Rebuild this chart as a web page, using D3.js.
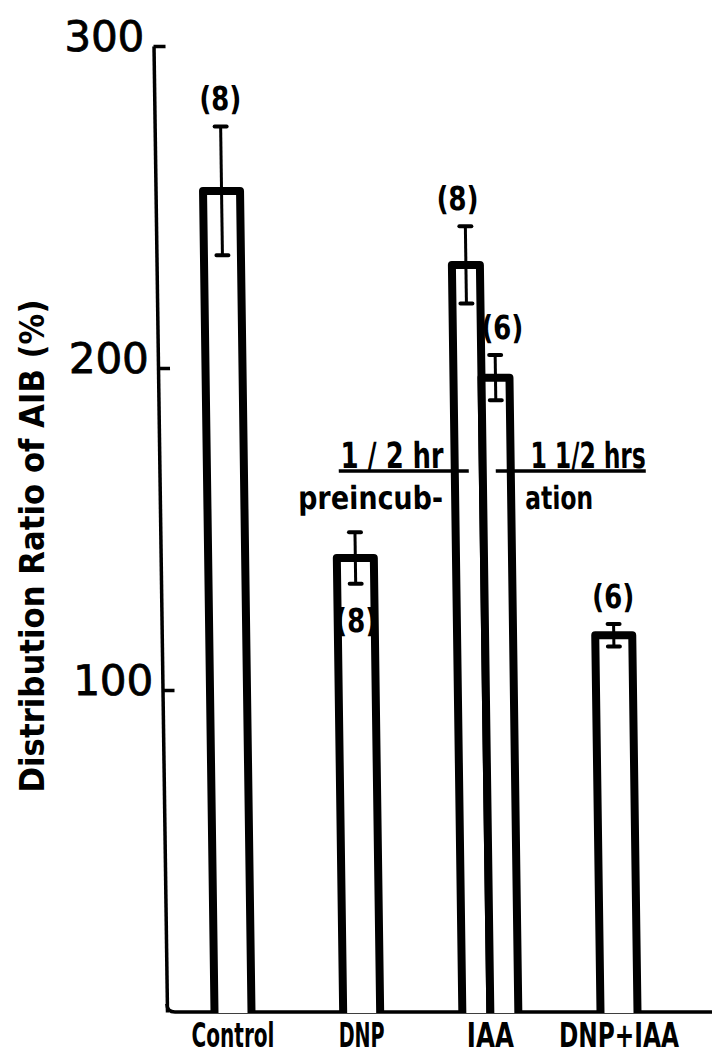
<html>

<head>
    <meta charset="utf-8">
    <title>Distribution Ratio of AIB</title>

    <style>
        body {
            padding: 0;
            margin: 0;
            background: white;
        }

        .axis path,
        .axis line {
            stroke: black;
            stroke-width: 3.5;
        }

        .axis text {
            font-family: "DejaVu Sans", sans-serif;
            font-size: 42px;
            fill: black;
            stroke: black;
            stroke-width: 0.8;
        }

        .bar {
            fill: white;
            stroke: black;
            stroke-width: 8;
            stroke-linejoin: round;
        }

        .err {
            stroke: black;
            stroke-width: 3;
        }

        .cap {
            stroke: black;
            stroke-width: 4;
            stroke-linecap: round;
        }

        .lettering {
            font-family: "DejaVu Sans Condensed", "DejaVu Sans", sans-serif;
            font-weight: bold;
            fill: black;
        }
    </style>
</head>

<body>

    <div id="chart"></div>

    <script src="https://d3js.org/d3.v7.min.js"></script>

    <script>
        // data
        var categories = ["Control", "DNP", "IAA", "DNP+IAA"];
        var barGroups = ["Control", "DNP", "IAA", "IAA", "DNP+IAA"];
        var barMeans = [255, 141, 232, 197, 117];
        var barErrors = [20, 8, 12, 7, 3.5];
        var barN = ["(8)", "(8)", "(8)", "(6)", "(6)"];
        var yTicks = [100, 200, 300];

        var width = 712,
            height = 1057;

        var svg = d3.select("#chart")
            .append("svg")
            .attr("width", width)
            .attr("height", height);

        var y = d3.scaleLinear()
            .domain([0, 300])
            .range([1012, 46]);

        var x = d3.scalePoint()
            .domain(categories)
            .range([233, 619]);

        // two bars side by side inside one category
        var sub = d3.scaleBand()
            .domain([0, 1])
            .range([-28, 28]);

        var axisX = 167;

        // the scanned figure leans a little: the top sits further left
        var g = svg.append("g")
            .attr("transform", "translate(0," + y(0) + ") skewX(0.8) translate(0," + (-y(0)) + ")");

        var bars = barMeans.map(function (m, i) {
            return { group: barGroups[i], mean: m, err: barErrors[i], n: barN[i] };
        });

        bars.forEach(function (d) {
            var members = bars.filter(function (b) { return b.group === d.group; });
            if (members.length === 1) {
                d.cx = x(d.group);
                d.half = 18.5;
                d.shift = 0;
            } else {
                var j = members.indexOf(d);
                d.cx = x(d.group) + sub(j) + sub.bandwidth() / 2;
                d.half = 14;
                d.shift = (j - 0.5) * 15;
            }
        });

        // y axis, ticks pointing into the plot, labels to the left
        g.append("g")
            .attr("class", "axis")
            .attr("transform", "translate(" + axisX + ",0)")
            .call(d3.axisLeft(y)
                .tickValues(yTicks)
                .tickSizeInner(-12)
                .tickSizeOuter(0)
                .tickPadding(9))
            .selectAll("text")
            .attr("dy", "0.1em");

        // baseline with the rounded corner
        g.append("path")
            .attr("d", "M" + axisX + "," + (y(0) - 8) + " Q" + axisX + "," + y(0) + " " + (axisX + 8) + "," + y(0) + " H" + width)
            .attr("fill", "none")
            .attr("stroke", "black")
            .attr("stroke-width", 3.5);

        // bars, open at the bottom
        g.append("g")
            .selectAll("path")
            .data(bars)
            .enter()
            .append("path")
            .attr("class", "bar")
            .attr("d", function (d) {
                return "M" + (d.cx - d.half) + "," + (y(0) + 1) +
                    " V" + y(d.mean) +
                    " H" + (d.cx + d.half) +
                    " V" + (y(0) + 1);
            });

        // error bars
        var eb = g.append("g")
            .selectAll("g")
            .data(bars)
            .enter()
            .append("g");

        eb.append("line")
            .attr("class", "err")
            .attr("x1", function (d) { return d.cx; })
            .attr("x2", function (d) { return d.cx; })
            .attr("y1", function (d) { return y(d.mean + d.err); })
            .attr("y2", function (d) { return y(d.mean - d.err); });

        eb.selectAll(".cap")
            .data(function (d) {
                return [{ cx: d.cx, v: d.mean + d.err }, { cx: d.cx, v: d.mean - d.err }];
            })
            .enter()
            .append("line")
            .attr("class", "cap")
            .attr("x1", function (d) { return d.cx - 6; })
            .attr("x2", function (d) { return d.cx + 6; })
            .attr("y1", function (d) { return y(d.v); })
            .attr("y2", function (d) { return y(d.v); });

        // number of experiments; DNP's sits inside its bar
        g.append("g")
            .selectAll("text")
            .data(bars)
            .enter()
            .append("text")
            .attr("class", "lettering")
            .attr("font-size", 33)
            .attr("text-anchor", "middle")
            .attr("x", function (d) { return d.cx + d.shift; })
            .attr("y", function (d) {
                return d.group === "DNP" ? y(d.mean - d.err) + 48 : y(d.mean + d.err) - 16;
            })
            .attr("textLength", 42)
            .attr("lengthAdjust", "spacingAndGlyphs")
            .text(function (d) { return d.n; });

        // category labels, squeezed horizontally like the hand lettering
        var labelWidth = { "Control": 83, "DNP": 46, "IAA": 47, "DNP+IAA": 120 };

        svg.append("g")
            .selectAll("text")
            .data(categories)
            .enter()
            .append("text")
            .attr("class", "lettering")
            .attr("font-size", 34)
            .attr("text-anchor", "middle")
            .text(function (d) { return d; })
            .attr("transform", function (d) {
                var sx = labelWidth[d] / this.getComputedTextLength();
                return "translate(" + x(d) + ",1047) scale(" + sx + ",1)";
            });

        // incubation note over the IAA bars
        var noteY = y(168),
            noteX = x("IAA");

        var note = g.append("g");

        note.append("line")
            .attr("x1", noteX - 144).attr("x2", noteX - 14)
            .attr("y1", noteY).attr("y2", noteY)
            .attr("stroke", "black").attr("stroke-width", 3.5);

        note.append("line")
            .attr("x1", noteX + 13).attr("x2", noteX + 163)
            .attr("y1", noteY).attr("y2", noteY)
            .attr("stroke", "black").attr("stroke-width", 3.5);

        var noteText = [
            { t: "1 / 2 hr", dx: -142, dy: -3, len: 103, size: 36 },
            { t: "preincub-", dx: -185, dy: 38, len: 145, size: 32 },
            { t: "1 1/2 hrs", dx: 48, dy: -3, len: 115, size: 36 },
            { t: "ation", dx: 42, dy: 38, len: 68, size: 32 }
        ];

        note.selectAll("text")
            .data(noteText)
            .enter()
            .append("text")
            .attr("class", "lettering")
            .attr("font-size", function (d) { return d.size; })
            .attr("x", function (d) { return noteX + d.dx; })
            .attr("y", function (d) { return noteY + d.dy; })
            .attr("textLength", function (d) { return d.len; })
            .attr("lengthAdjust", "spacingAndGlyphs")
            .text(function (d) { return d.t; });

        // y axis title
        svg.append("text")
            .attr("class", "lettering")
            .attr("font-size", 34)
            .attr("text-anchor", "middle")
            .attr("transform", "translate(44,546) rotate(-90)")
            .attr("textLength", 493)
            .attr("lengthAdjust", "spacingAndGlyphs")
            .text("Distribution Ratio of AIB (%)");
    </script>
</body>

</html>
